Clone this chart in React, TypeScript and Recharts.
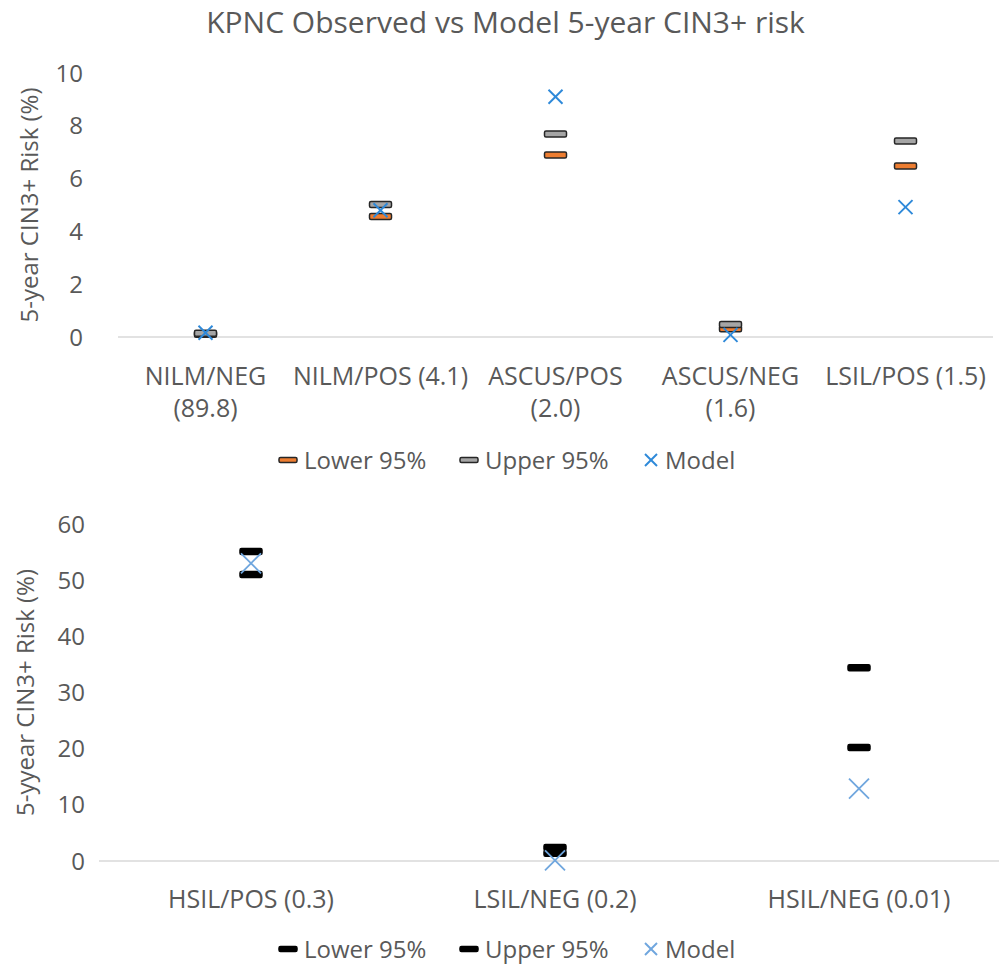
import React from 'react';
import { ComposedChart, Scatter, XAxis, YAxis } from 'recharts';

const topCategories = ['NILM/NEG (89.8)', 'NILM/POS (4.1)', 'ASCUS/POS (2.0)', 'ASCUS/NEG (1.6)', 'LSIL/POS (1.5)'];
const topTickLines = [['NILM/NEG', '(89.8)'], ['NILM/POS (4.1)'], ['ASCUS/POS', '(2.0)'], ['ASCUS/NEG', '(1.6)'], ['LSIL/POS (1.5)']];
const topLower = [0.1, 4.56, 6.89, 0.31, 6.48];
const topUpper = [0.14, 5.02, 7.69, 0.47, 7.42];
const topModel = [0.16, 4.8, 9.1, 0.08, 4.92];
const topTicks = [0, 2, 4, 6, 8, 10];

const bottomCategories = ['HSIL/POS (0.3)', 'LSIL/NEG (0.2)', 'HSIL/NEG (0.01)'];
const bottomTickLines = [['HSIL/POS (0.3)'], ['LSIL/NEG (0.2)'], ['HSIL/NEG (0.01)']];
const bottomLower = [51.0, 1.4, 20.2];
const bottomUpper = [55.1, 2.4, 34.4];
const bottomModel = [53.0, 0.1, 12.9];
const bottomTicks = [0, 10, 20, 30, 40, 50, 60];

const legendNames = ['Lower 95%', 'Upper 95%', 'Model'];

const FONT = '"Open Sans", sans-serif';
const TEXT = '#595959';
const AXIS = '#D9D9D9';
const FS = 24;
const CAT_FS = 25;

const topData = topCategories.map((c, i) => ({ cat: c, lower: topLower[i], upper: topUpper[i], model: topModel[i] }));
const bottomData = bottomCategories.map((c, i) => ({ cat: c, lower: bottomLower[i], upper: bottomUpper[i], model: bottomModel[i] }));

const dashShape = (fill: string, stroke: string) => (props: any) => {
  const { cx, cy } = props;
  if (cx == null || cy == null) return <g />;
  return <rect x={cx - 11} y={cy - 3} width={22} height={6} rx={1.5} fill={fill} stroke={stroke} strokeWidth={1.5} />;
};

const xShape = (color: string, half: number, sw: number) => (props: any) => {
  const { cx, cy } = props;
  if (cx == null || cy == null) return <g />;
  return (
    <g stroke={color} strokeWidth={sw}>
      <line x1={cx - half} y1={cy - half} x2={cx + half} y2={cy + half} />
      <line x1={cx - half} y1={cy + half} x2={cx + half} y2={cy - half} />
    </g>
  );
};

const makeTick = (lines: string[][], cats: string[], dy: number) => (props: any) => {
  const { x, y, payload } = props;
  const idx = cats.indexOf(payload.value);
  const ls = idx >= 0 ? lines[idx] : [String(payload.value)];
  return (
    <g>
      {ls.map((l, i) => (
        <text key={i} x={x} y={y + dy + i * 32} textAnchor="middle" fill={TEXT} fontSize={CAT_FS} fontFamily={FONT}>
          {l}
        </text>
      ))}
    </g>
  );
};

const yLabel = (text: string, x: number) => (props: any) => {
  const vb = props.viewBox || {};
  const cy = (vb.y || 0) + (vb.height || 0) / 2;
  return (
    <text x={x} y={cy} transform={`rotate(-90, ${x}, ${cy})`} textAnchor="middle" dominantBaseline="central" fill={TEXT} fontSize={FS} fontFamily={FONT}>
      {text}
    </text>
  );
};

const LegendRow = ({ top, lowerFill, upperFill, dashStroke, xColor }: any) => (
  <div style={{ position: 'absolute', top, left: 0, width: 999, height: 40 }}>
    <svg width={999} height={40} style={{ position: 'absolute', left: 0, top: 0, overflow: 'visible' }}>
      <rect x={279} y={12.5} width={18} height={5} rx={1.5} fill={lowerFill} stroke={dashStroke} strokeWidth={1.5} />
      <rect x={460} y={12.5} width={18} height={5} rx={1.5} fill={upperFill} stroke={dashStroke} strokeWidth={1.5} />
      <g stroke={xColor} strokeWidth={2}>
        <line x1={645} y1={9} x2={657} y2={21} />
        <line x1={645} y1={21} x2={657} y2={9} />
      </g>
      <text x={304} y={23.5} fill={TEXT} fontSize={FS} fontFamily={FONT}>{legendNames[0]}</text>
      <text x={485} y={23.5} fill={TEXT} fontSize={FS} fontFamily={FONT}>{legendNames[1]}</text>
      <text x={665} y={23.5} fill={TEXT} fontSize={FS} fontFamily={FONT}>{legendNames[2]}</text>
    </svg>
  </div>
);

export default function App() {
  return (
    <div style={{ position: 'absolute', left: 0, top: 0, width: 999, height: 965, overflow: 'hidden', background: '#fff', fontFamily: FONT }}>
      <div style={{ position: 'absolute', top: 0, left: 0, width: 1011, textAlign: 'center', fontSize: 30, lineHeight: '43px', color: TEXT, fontFamily: FONT }}>
        KPNC Observed vs Model 5-year CIN3+ risk
      </div>
      <div style={{ position: 'absolute', top: 0, left: 0 }}>
        <ComposedChart width={999} height={430} data={topData} margin={{ top: 73, right: 6, bottom: 13, left: 0 }}>
          <XAxis dataKey="cat" type="category" scale="band" axisLine={{ stroke: AXIS, strokeWidth: 1.5 }} tickLine={false} tickSize={0} height={80} interval={0}
            tick={makeTick(topTickLines, topCategories, 46)} />
          <YAxis type="number" domain={[0, 10]} ticks={topTicks} width={118} axisLine={false} tickLine={false} tickSize={0} tickMargin={35}
            tick={{ fill: TEXT, fontSize: FS, fontFamily: FONT }} label={{ content: yLabel('5-year CIN3+ Risk (%)', 28) } as any} />
          <Scatter dataKey="lower" isAnimationActive={false} shape={dashShape('#ED7D31', '#262626')} />
          <Scatter dataKey="upper" isAnimationActive={false} shape={dashShape('#A5A5A5', '#262626')} />
          <Scatter dataKey="model" isAnimationActive={false} shape={xShape('#2E89D9', 7, 2)} />
        </ComposedChart>
      </div>
      <LegendRow top={445} lowerFill="#ED7D31" upperFill="#A5A5A5" dashStroke="#262626" xColor="#2E89D9" />
      <div style={{ position: 'absolute', top: 480, left: 0 }}>
        <ComposedChart width={1020} height={445} data={bottomData} margin={{ top: 44, right: 9, bottom: 4, left: 0 }}>
          <XAxis dataKey="cat" type="category" scale="band" axisLine={{ stroke: AXIS, strokeWidth: 1.5 }} tickLine={false} tickSize={0} height={60} interval={0}
            tick={makeTick(bottomTickLines, bottomCategories, 45)} />
          <YAxis type="number" domain={[0, 60]} ticks={bottomTicks} width={99} axisLine={false} tickLine={false} tickSize={0} tickMargin={14}
            tick={{ fill: TEXT, fontSize: FS, fontFamily: FONT }} label={{ content: yLabel('5-yyear CIN3+ Risk (%)', 24) } as any} />
          <Scatter dataKey="lower" isAnimationActive={false} shape={dashShape('#000000', '#000000')} />
          <Scatter dataKey="upper" isAnimationActive={false} shape={dashShape('#000000', '#000000')} />
          <Scatter dataKey="model" isAnimationActive={false} shape={xShape('#6FA6DE', 10, 1.8)} />
        </ComposedChart>
      </div>
      <LegendRow top={934} lowerFill="#000000" upperFill="#000000" dashStroke="#000000" xColor="#6FA6DE" />
    </div>
  );
}
